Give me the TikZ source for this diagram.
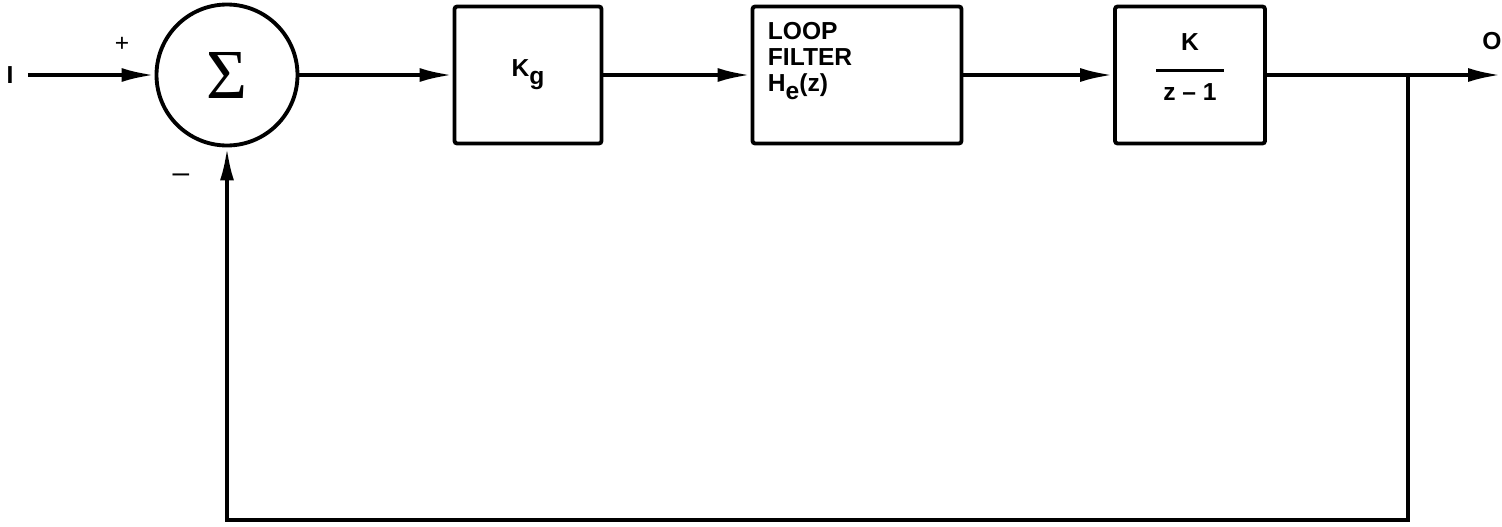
\documentclass[tikz,border=0pt]{standalone}
\usepackage{fontspec}
\setmainfont{Liberation Sans}
\newfontfamily\sigfont{Liberation Serif}
\usetikzlibrary{arrows.meta}

\begin{document}
\begin{tikzpicture}[x=0.2mm, y=-0.2mm,
  blk/.style={draw, line width=2.2pt, rounded corners=1.5pt, inner sep=0pt,
              minimum height=2.74cm, align=center,
              font=\fontsize{14}{15}\selectfont\bfseries},
  lbl/.style={font=\fontsize{14}{15}\selectfont\bfseries},
  sgn/.style={font=\fontsize{14}{15}\selectfont},
  arr/.style={-{Latex[length=6.6mm,width=2.8mm]}, line width=2.2pt}
]
\useasboundingbox (0,0) rectangle (1502,526);
% ---- summing junction ----
\node[draw, circle, line width=2.2pt, minimum size=2.82cm, inner sep=0pt,
      font=\sigfont\fontsize{40}{40}\selectfont] (sum) at (227,75) {Σ};
\node[lbl, inner xsep=8pt] (inp) at (10,75) {I};
\node[sgn] (pl) at (122,44) {+};
\node[sgn, font=\fontsize{17}{17}\selectfont] (mi) at (181,178) {--};
% ---- forward path ----
\node[blk, minimum width=2.94cm] (kg) at (528,75) {K\raisebox{-0.6ex}{g}};
\node[blk, minimum width=4.18cm,
      label={[lbl, anchor=north west, align=left, inner sep=0.34cm]north west:%
        LOOP\\FILTER\\H\raisebox{-0.6ex}{e}(z)}] (filt) at (857,75) {};
\node[blk, minimum width=3.0cm] (plant) at (1190,75)
      {K\\[-3pt]\rule{1.36cm}{1.8pt}\\[1pt]z -- 1\\[-6pt]};
% ---- output and feedback ----
\coordinate (br) at (1408,75);
\coordinate (out) at (1501,75);
\coordinate (fb) at (227,520);
\node[lbl] (olbl) at (1492,41) {O};
\draw[arr] (inp) -- (sum);
\draw[arr] (sum) -- (kg);
\draw[arr] (kg) -- (filt);
\draw[arr] (filt) -- (plant);
\draw[arr] (plant) -- (out);
\draw[arr] (br) |- (fb) -- (sum);
\end{tikzpicture}
\end{document}
